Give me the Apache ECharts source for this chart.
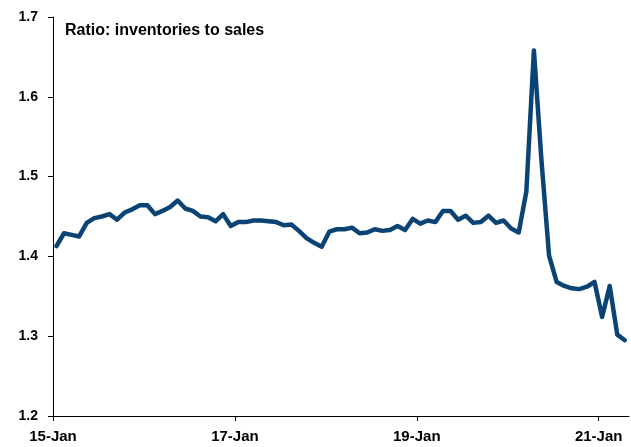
<!DOCTYPE html>
<html>
<head>
<meta charset="utf-8">
<script src="https://cdn.jsdelivr.net/npm/echarts@6/dist/echarts.min.js"></script>
<style>
html,body{margin:0;padding:0;background:#fff;}
#chart{width:631px;height:447px;}
</style>
</head>
<body>
<div id="chart"></div>
<script>
// Monthly inventories-to-sales ratio, Jan 2015 .. Apr 2021
const startYear = 2015;
const ratio = [
  1.413, 1.429, 1.427, 1.425, 1.442, 1.448, 1.450, 1.453, 1.446, 1.455, 1.459, 1.464,
  1.464, 1.453, 1.457, 1.462, 1.470, 1.460, 1.457, 1.450, 1.449, 1.444, 1.453, 1.438,
  1.443, 1.443, 1.445, 1.445, 1.444, 1.443, 1.439, 1.440, 1.432, 1.423, 1.417, 1.412,
  1.431, 1.434, 1.434, 1.436, 1.429, 1.430, 1.434, 1.432, 1.433, 1.438, 1.433, 1.447,
  1.441, 1.445, 1.443, 1.457, 1.457, 1.446, 1.451, 1.442, 1.443, 1.451, 1.442, 1.445,
  1.435, 1.430, 1.481, 1.658, 1.520, 1.401, 1.368, 1.363, 1.360, 1.359, 1.362, 1.368,
  1.324, 1.363, 1.302, 1.295
];
const xTickLabels = ['15-Jan', '17-Jan', '19-Jan', '21-Jan'];
const yTickLabels = ['1.2', '1.3', '1.4', '1.5', '1.6', '1.7'];
const titleText = 'Ratio: inventories to sales';

// x position in months since Jan 2015; observations dated mid-month
const midMonth = 14 / 31;
const seriesData = ratio.map((v, i) => [i + midMonth, v]);

const chart = echarts.init(document.getElementById('chart'), null, {renderer: 'canvas'});
const font = 'Liberation Sans, Arial, sans-serif';
chart.setOption({
  animation: false,
  grid: {left: 53, right: 2, top: 17, bottom: 31, containLabel: false},
  graphic: [{
    type: 'text', left: 65, top: 23,
    style: {text: titleText, font: 'bold 16px ' + font, fill: '#000'}
  }],
  xAxis: {
    type: 'value', min: 0, max: 76, interval: 24,
    axisLine: {show: true, lineStyle: {color: '#000', width: 1}},
    axisTick: {show: true, length: 5, lineStyle: {color: '#000'}},
    splitLine: {show: false},
    axisLabel: {
      margin: 13, color: '#000', fontFamily: font, fontWeight: 'bold', fontSize: 15,
      formatter: v => xTickLabels[Math.round(v / 24)] || ''
    }
  },
  yAxis: {
    type: 'value', min: 1.2, max: 1.7, interval: 0.1,
    axisLine: {show: true, lineStyle: {color: '#000', width: 1}},
    axisTick: {show: true, length: 5, lineStyle: {color: '#000'}},
    splitLine: {show: false},
    axisLabel: {
      margin: 15, color: '#000', fontFamily: font, fontWeight: 'bold', fontSize: 14,
      formatter: v => yTickLabels[Math.round((v - 1.2) / 0.1)] || ''
    }
  },
  series: [{
    type: 'line', data: seriesData, showSymbol: false, symbol: 'none',
    lineStyle: {color: '#0b4375', width: 4.5, cap: 'round', join: 'round'},
    clip: false
  }]
});
</script>
</body>
</html>
